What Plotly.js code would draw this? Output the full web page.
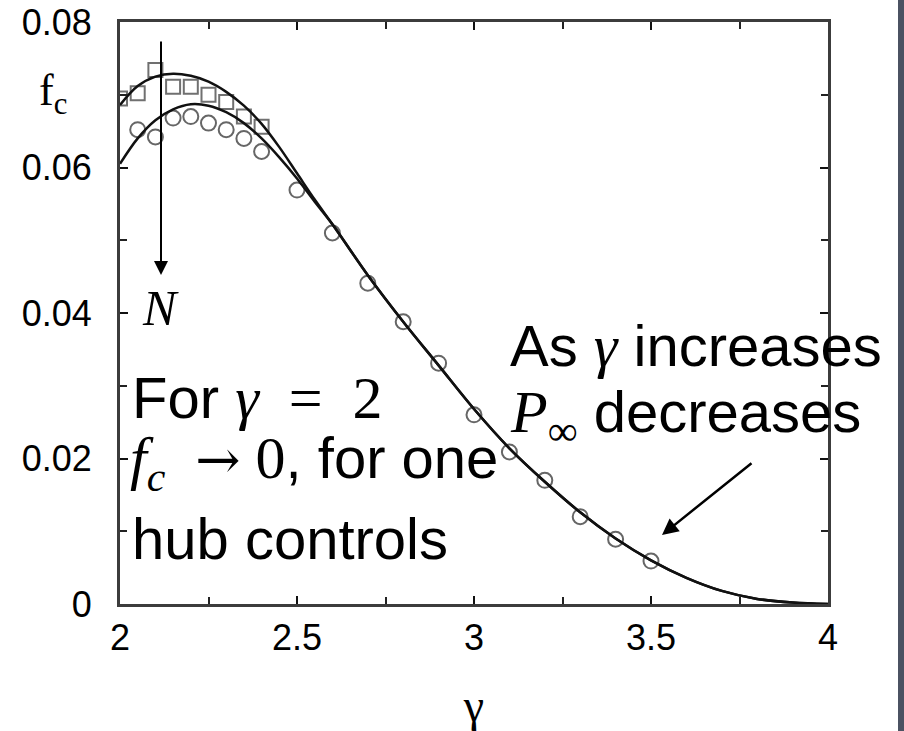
<!DOCTYPE html>
<html>
<head>
<meta charset="utf-8">
<script src="https://cdn.plot.ly/plotly-3.0.1.min.js"></script>
<style>
  html, body { margin: 0; padding: 0; background: #ffffff; }
  #wrap { width: 898px; height: 731px; border-right: 6px solid #4b5262; }
  #chart { width: 898px; height: 731px; }
</style>
</head>
<body>
<div id="wrap"><div id="chart"></div></div>
<script>
// Critical fraction f_c versus degree exponent gamma: two theory curves
// (smaller and larger N) and the matching simulation points.

const curveGamma = [2.00, 2.05, 2.10, 2.15, 2.20, 2.25, 2.30, 2.35, 2.40, 2.45, 2.50, 2.55,
                    2.60, 2.70, 2.80, 2.90, 3.00, 3.10, 3.20, 3.30, 3.40, 3.50, 3.60, 3.70, 3.80, 3.90, 4.00];
const curveSmallN = [0.0686, 0.0712, 0.0725, 0.0729, 0.0726, 0.0718, 0.0704, 0.0685, 0.0660, 0.0628, 0.0592, 0.0556,
                     0.0522, 0.0452, 0.0388, 0.0328, 0.0268, 0.0214, 0.0168, 0.0126, 0.0090, 0.0060, 0.0036, 0.0018, 0.0007, 0.0002, 0.0000];
const curveLargeN = [0.0605, 0.0640, 0.0665, 0.0680, 0.0687, 0.0685, 0.0676, 0.0661, 0.0640, 0.0614, 0.0585, 0.0553,
                     0.0522, 0.0452, 0.0388, 0.0328, 0.0268, 0.0214, 0.0168, 0.0126, 0.0090, 0.0060, 0.0036, 0.0018, 0.0007, 0.0002, 0.0000];

const squareGamma = [2.00, 2.05, 2.10, 2.15, 2.20, 2.25, 2.30, 2.35, 2.40];
const squareFc    = [0.0695, 0.0702, 0.0734, 0.0711, 0.0711, 0.0700, 0.0690, 0.0670, 0.0656];

const circleGamma = [2.05, 2.10, 2.15, 2.20, 2.25, 2.30, 2.35, 2.40, 2.50, 2.60, 2.70,
                     2.80, 2.90, 3.00, 3.10, 3.20, 3.30, 3.40, 3.50];
const circleFc    = [0.0652, 0.0642, 0.0668, 0.0670, 0.0661, 0.0652, 0.0640, 0.0622, 0.0569, 0.0510, 0.0441,
                     0.0388, 0.0331, 0.0260, 0.0209, 0.0170, 0.0120, 0.0089, 0.0059];

const xTickVals = [2, 2.5, 3, 3.5, 4];
const xTickText = ['2', '2.5', '3', '3.5', '4'];
const yTickVals = [0, 0.02, 0.04, 0.06, 0.08];
const yTickText = ['0', '0.02', '0.04', '0.06', '0.08'];

const SANS = 'Liberation Sans, Arial, sans-serif';
const SERIF = "'Liberation Serif', 'Times New Roman', serif";
const ARROWFONT = "'DejaVu Serif', serif";
const math = (s, size) => `<span style="font-family:${SERIF};font-size:${size || 60}px">${s}</span>`;
const arrowGlyph = `<span style="font-family:${ARROWFONT};font-size:54px">→</span>`;

// plot area in pixels: left 120, right 828, top 22, bottom 604
const PL = 120, PW = 708, PB = 604, PH = 582;
const px = (x) => (x - PL) / PW;
const py = (y) => (PB - y) / PH;

const markerLine = { color: '#707070', width: 2 };

const traces = [
  { x: squareGamma, y: squareFc, type: 'scatter', mode: 'markers',
    marker: { symbol: 'square-open', size: 14, color: '#707070', line: markerLine } },
  { x: circleGamma, y: circleFc, type: 'scatter', mode: 'markers',
    marker: { symbol: 'circle-open', size: 15, color: '#666666', line: markerLine } },
  { x: curveGamma, y: curveSmallN, type: 'scatter', mode: 'lines',
    line: { color: '#111111', width: 2.5, shape: 'spline' } },
  { x: curveGamma, y: curveLargeN, type: 'scatter', mode: 'lines',
    line: { color: '#111111', width: 2.5, shape: 'spline' } }
];

const textFont = { family: SANS, size: 58, color: '#000000' };
const SP = '\u2002';
const MID = '\u2005';

const annotations = [
  // y-axis label
  { xref: 'paper', yref: 'paper', x: px(53), y: py(93), xanchor: 'center', yanchor: 'middle',
    showarrow: false, text: 'f<sub>c</sub>', font: { family: SERIF, size: 44, color: '#000' } },
  // arrow showing growing N
  { xref: 'paper', yref: 'paper', x: px(161), y: py(275), ax: 0, ay: -235, text: '',
    showarrow: true, arrowhead: 2, arrowsize: 1.4, arrowwidth: 2, arrowcolor: '#000' },
  { xref: 'paper', yref: 'paper', x: px(160), y: py(308), xanchor: 'center', yanchor: 'middle',
    showarrow: false, text: '<i>N</i>', font: { family: SERIF, size: 50, color: '#000' } },
  // left-hand notes
  { xref: 'paper', yref: 'paper', x: px(130), y: py(398), xanchor: 'left', yanchor: 'middle',
    showarrow: false, font: textFont, text: 'For ' + math('<i>γ</i>' + SP + '=' + SP + '2') },
  { xref: 'paper', yref: 'paper', x: px(128), y: py(462), xanchor: 'left', yanchor: 'middle',
    showarrow: false, font: textFont,
    text: math('<i>f<sub>c</sub></i>' + SP) + arrowGlyph + math(MID + '0') + ', for one' },
  { xref: 'paper', yref: 'paper', x: px(130), y: py(538), xanchor: 'left', yanchor: 'middle',
    showarrow: false, font: textFont, text: 'hub controls' },
  // right-hand notes
  { xref: 'paper', yref: 'paper', x: px(508), y: py(346), xanchor: 'left', yanchor: 'middle',
    showarrow: false, font: textFont, text: 'As ' + math('<i>γ</i>') + ' increases' },
  { xref: 'paper', yref: 'paper', x: px(508), y: py(416), xanchor: 'left', yanchor: 'middle',
    showarrow: false, font: textFont, text: math('<i>P</i><sub>∞</sub>') + ' decreases' },
  { xref: 'paper', yref: 'paper', x: px(662), y: py(535), ax: 91, ay: -73, text: '',
    showarrow: true, arrowhead: 2, arrowsize: 1.3, arrowwidth: 2.5, arrowcolor: '#000' }
];

const axisCommon = {
  showgrid: false, zeroline: false,
  showline: true, linecolor: '#3c3c3c', linewidth: 3, mirror: 'allticks',
  ticks: 'inside', ticklen: 8, tickwidth: 2, tickcolor: '#111',
  tickfont: { family: SANS, size: 36, color: '#000' }
};

const layout = {
  width: 898, height: 731,
  margin: { l: 120, r: 70, t: 22, b: 127 },
  paper_bgcolor: '#ffffff', plot_bgcolor: '#ffffff',
  showlegend: false,
  xaxis: Object.assign({}, axisCommon, {
    range: [2, 4], tickmode: 'array', tickvals: xTickVals, ticktext: xTickText,
    ticklabelstandoff: 0,
    minor: { dtick: 0.25, tick0: 2, ticks: 'inside', ticklen: 7, tickwidth: 2, tickcolor: '#222' },
    title: { text: 'γ', font: { family: SERIF, size: 46, color: '#000' }, standoff: 49 }
  }),
  yaxis: Object.assign({}, axisCommon, {
    range: [0, 0.08], tickmode: 'array', tickvals: yTickVals, ticktext: yTickText,
    ticklabelstandoff: 18,
    minor: { dtick: 0.01, tick0: 0, ticks: 'inside', ticklen: 7, tickwidth: 2, tickcolor: '#222' }
  }),
  annotations: annotations
};

Plotly.newPlot('chart', traces, layout, { displayModeBar: false, staticPlot: true });
</script>
</body>
</html>
